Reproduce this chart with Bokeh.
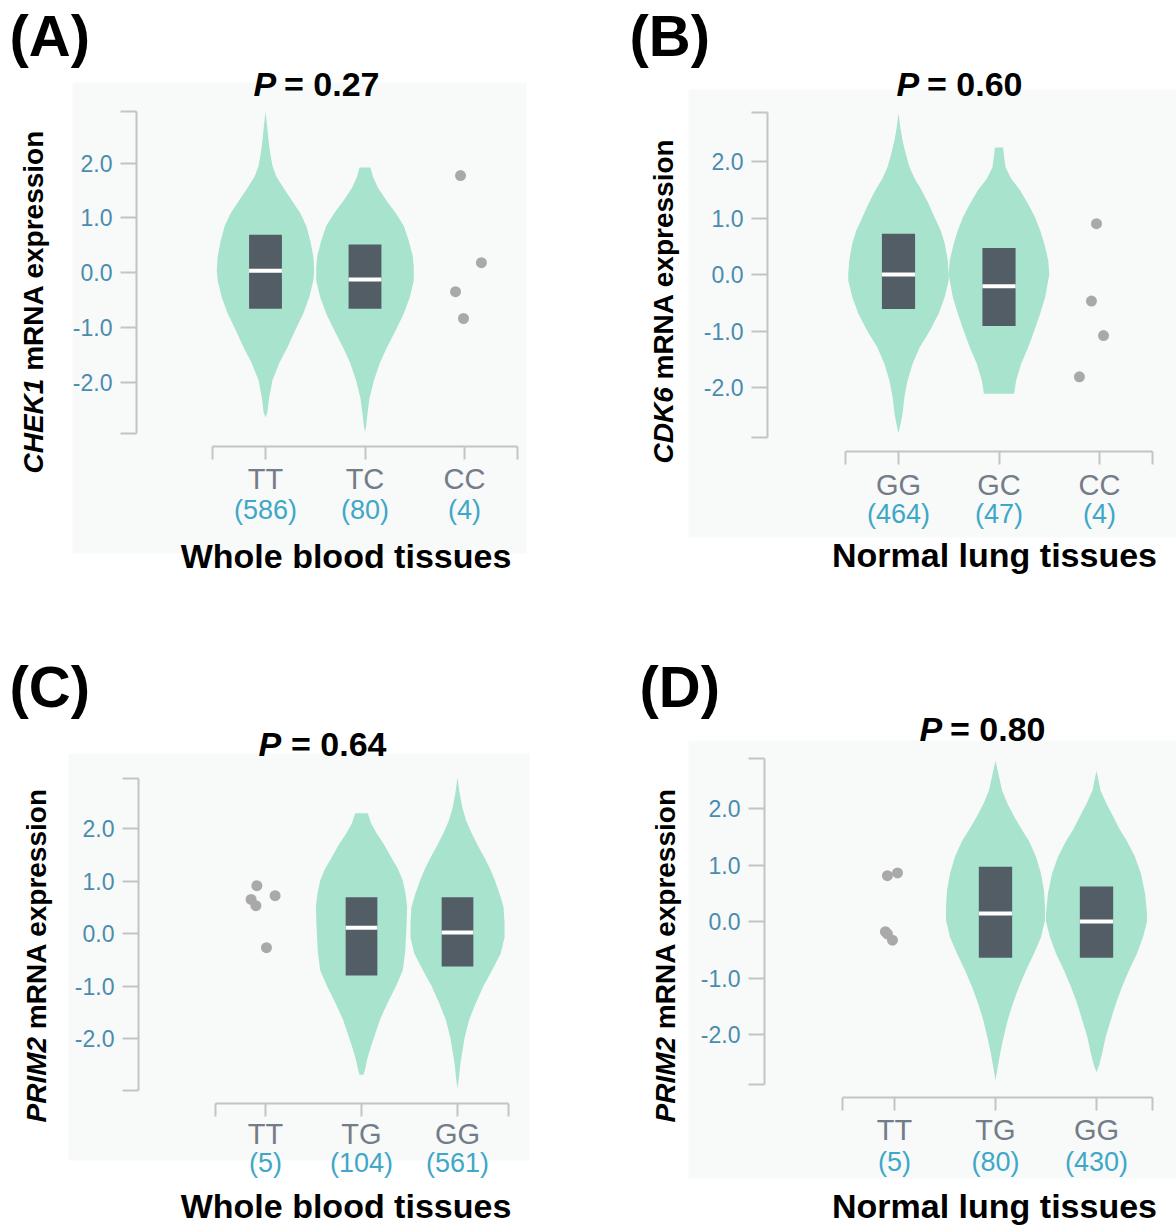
import math
from bokeh.plotting import figure
from bokeh.models import Range1d, LinearAxis, FixedTicker, Label, BoxAnnotation
from bokeh.layouts import gridplot
from bokeh.embed import file_html
from bokeh.resources import INLINE

# ---------------- data ----------------
# Panel A
A_gene = "CHEK1"
A_tissue = "Whole blood tissues"
A_pvalue = "0.27"
A_genotypes = ["TT", "TC", "CC"]
A_counts = [586, 80, 4]
A_TT_vy = [2.94, 2.70, 2.45, 2.20, 1.95, 1.75, 1.55, 1.30, 1.08, 0.85, 0.58, 0.30, 0.05, -0.15, -0.45, -0.75, -1.05, -1.37, -1.65, -1.97, -2.30, -2.55, -2.65]
A_TT_vw = [0.0, 0.015, 0.028, 0.045, 0.07, 0.11, 0.18, 0.27, 0.35, 0.41, 0.45, 0.48, 0.49, 0.48, 0.44, 0.38, 0.30, 0.22, 0.14, 0.07, 0.035, 0.02, 0.0]
A_TC_vy = [1.92, 1.75, 1.55, 1.30, 1.08, 0.85, 0.58, 0.30, 0.10, -0.15, -0.45, -0.75, -1.05, -1.37, -1.65, -1.97, -2.30, -2.58, -2.80, -2.92]
A_TC_vw = [0.055, 0.08, 0.13, 0.22, 0.31, 0.39, 0.44, 0.48, 0.49, 0.49, 0.45, 0.39, 0.31, 0.22, 0.15, 0.09, 0.045, 0.025, 0.012, 0.0]
A_q1 = [-0.66, -0.66]
A_q3 = [0.69, 0.51]
A_med = [0.03, -0.13]
A_pts_y = [1.77, 0.18, -0.35, -0.84]
A_pts_jit = [-0.04, 0.17, -0.09, -0.01]

# Panel B
B_gene = "CDK6"
B_tissue = "Normal lung tissues"
B_pvalue = "0.60"
B_genotypes = ["GG", "GC", "CC"]
B_counts = [464, 47, 4]
B_GG_vy = [2.85, 2.60, 2.37, 2.15, 1.90, 1.70, 1.49, 1.25, 1.01, 0.78, 0.55, 0.25, 0.00, -0.10, -0.40, -0.69, -1.00, -1.29, -1.58, -1.88, -2.15, -2.46, -2.65, -2.81]
B_GG_vw = [0.0, 0.018, 0.04, 0.07, 0.11, 0.16, 0.23, 0.30, 0.36, 0.42, 0.46, 0.49, 0.50, 0.50, 0.46, 0.40, 0.31, 0.21, 0.14, 0.09, 0.06, 0.04, 0.02, 0.0]
B_GC_vy = [2.25, 2.10, 1.90, 1.70, 1.49, 1.25, 1.01, 0.78, 0.55, 0.25, 0.00, -0.10, -0.40, -0.69, -1.00, -1.29, -1.58, -1.88, -2.11]
B_GC_vw = [0.04, 0.05, 0.065, 0.12, 0.21, 0.29, 0.36, 0.41, 0.45, 0.49, 0.50, 0.49, 0.46, 0.41, 0.35, 0.29, 0.22, 0.17, 0.15]
B_q1 = [-0.61, -0.91]
B_q3 = [0.72, 0.47]
B_med = [0.0, -0.21]
B_pts_y = [0.90, -0.47, -1.08, -1.81]
B_pts_jit = [-0.03, -0.08, 0.04, -0.20]

# Panel C
C_gene = "PRIM2"
C_tissue = "Whole blood tissues"
C_pvalue = "0.64"
C_genotypes = ["TT", "TG", "GG"]
C_counts = [5, 104, 561]
C_TG_vy = [2.29, 2.10, 1.90, 1.68, 1.45, 1.23, 1.01, 0.75, 0.50, 0.20, 0.00, -0.35, -0.70, -1.00, -1.33, -1.65, -1.98, -2.20, -2.42, -2.60, -2.69]
C_TG_vw = [0.065, 0.10, 0.16, 0.24, 0.31, 0.38, 0.43, 0.46, 0.475, 0.47, 0.465, 0.455, 0.43, 0.36, 0.27, 0.19, 0.13, 0.09, 0.056, 0.035, 0.02]
C_GG_vy = [2.97, 2.70, 2.40, 2.15, 1.90, 1.68, 1.45, 1.23, 1.01, 0.75, 0.50, 0.20, -0.07, -0.38, -0.70, -1.00, -1.33, -1.65, -1.98, -2.25, -2.48, -2.75, -2.95]
C_GG_vw = [0.0, 0.02, 0.05, 0.09, 0.15, 0.21, 0.28, 0.34, 0.39, 0.44, 0.48, 0.49, 0.49, 0.45, 0.36, 0.27, 0.19, 0.12, 0.075, 0.05, 0.03, 0.015, 0.0]
C_q1 = [-0.80, -0.63]
C_q3 = [0.69, 0.69]
C_med = [0.11, 0.02]
C_pts_y = [0.91, 0.72, 0.65, 0.53, -0.27]
C_pts_jit = [-0.09, 0.10, -0.15, -0.10, 0.01]

# Panel D
D_gene = "PRIM2"
D_tissue = "Normal lung tissues"
D_pvalue = "0.80"
D_genotypes = ["TT", "TG", "GG"]
D_counts = [5, 80, 430]
D_TG_vy = [2.85, 2.60, 2.32, 2.08, 1.84, 1.63, 1.43, 1.15, 0.85, 0.55, 0.25, 0.02, -0.28, -0.57, -0.87, -1.17, -1.46, -1.75, -2.05, -2.34, -2.60, -2.81]
D_TG_vw = [0.0, 0.03, 0.065, 0.12, 0.19, 0.26, 0.33, 0.40, 0.45, 0.48, 0.49, 0.49, 0.45, 0.38, 0.30, 0.23, 0.17, 0.12, 0.08, 0.045, 0.02, 0.0]
D_GG_vy = [2.67, 2.50, 2.32, 2.08, 1.84, 1.63, 1.43, 1.15, 0.85, 0.50, 0.14, 0.00, -0.28, -0.57, -0.87, -1.17, -1.46, -1.75, -2.05, -2.34, -2.55, -2.67]
D_GG_vw = [0.0, 0.02, 0.04, 0.10, 0.17, 0.23, 0.30, 0.38, 0.44, 0.48, 0.50, 0.50, 0.46, 0.40, 0.32, 0.25, 0.19, 0.14, 0.09, 0.055, 0.025, 0.0]
D_q1 = [-0.64, -0.64]
D_q3 = [0.97, 0.62]
D_med = [0.14, 0.0]
D_pts_y = [0.81, 0.86, -0.18, -0.22, -0.33]
D_pts_jit = [-0.07, 0.03, -0.09, -0.07, -0.02]

Y_TICKS = [-2, -1, 0, 1, 2]
Y_TICK_LABELS = ["-2.0", "-1.0", "0.0", "1.0", "2.0"]

# ---------------- style ----------------
VIOLIN = "#a7e3cd"
BOX = "#535d66"
BG = "#f8f9f9"
AXIS = "#c4c4c4"
YTICK = "#4a8cae"
GENO = "#737d88"
COUNT = "#3fa7c7"
PT = "#a9a9a9"
FONT = "Liberation Sans"
ASC = 0.905  # ascent (em) of the font: 'top' anchor = baseline - ASC * size

# layout in page pixels: canvas origin/size, y-axis x, x-axis y, category-1 x, px per category,
# zero-line y, px per unit, axis bounds (data), background box, text baselines
LAYOUT = {
    "A": dict(ox=0, oy=0, W=590, H=600, yax=136, xax=446, c1=265, sp=99.5, z0=272, unit=54.75,
              xb=(0.47, 3.53), yb=(-2.94, 2.94), bg=(72, 526, 82, 553), gstand=3,
              letter=(9, 55), ptitle=(253, 379, 95), xtitle=(345.5, 567), ylab=(43, 473), cnt_base=519),
    "B": dict(ox=590, oy=0, W=586, H=600, yax=767, xax=451, c1=898, sp=100.5, z0=274, unit=56.5,
              xb=(0.473, 3.527), yb=(-2.88, 2.87), bg=(688, 1176, 89, 537), gstand=4,
              letter=(629, 55), ptitle=(896, 1022, 95), xtitle=(994, 566), ylab=(673, 463), cnt_base=523),
    "C": dict(ox=0, oy=600, W=590, H=628, yax=138, xax=1103, c1=265, sp=96, z0=933, unit=52.5,
              xb=(0.48, 3.53), yb=(-2.99, 2.95), bg=(68, 529, 753, 1160), gstand=1,
              letter=(9, 706), ptitle=(258, 386, 755), xtitle=(345.5, 1217), ylab=(46, 1122), cnt_base=1172),
    "D": dict(ox=590, oy=600, W=586, H=628, yax=764, xax=1097, c1=894, sp=101, z0=921, unit=56.5,
              xb=(0.485, 3.55), yb=(-2.88, 2.88), bg=(688, 1176, 740, 1178), gstand=3,
              letter=(639, 706), ptitle=(919, 1045, 740), xtitle=(994, 1217), ylab=(675, 1122), cnt_base=1171),
}

GENE_EM = {"CHEK1": 3.667, "CDK6": 3.0, "PRIM2": 3.334}  # width of "GENE " in em (Arial bold)


def build(key, gene, tissue, pval, genos, counts, violins, vcats, q1, q3, med, pcat, pts_y, pts_jit):
    L = LAYOUT[key]
    ox, oy, W, H = L["ox"], L["oy"], L["W"], L["H"]
    c1, sp, z0, un = L["c1"], L["sp"], L["z0"], L["unit"]

    def dx(gx):  # page px -> data x
        return 1 + (gx - c1) / sp

    def dy(gy):  # page px -> data y
        return (z0 - gy) / un

    # the frame covers the whole canvas; axes are pinned with fixed_location
    p = figure(width=W, height=H, output_backend="svg", toolbar_location=None,
               x_range=Range1d(dx(ox), dx(ox + W)), y_range=Range1d(dy(oy + H), dy(oy)),
               min_border=0, min_border_left=0, min_border_right=0, min_border_top=0,
               min_border_bottom=0, x_axis_type=None, y_axis_type=None)
    p.outline_line_color = None
    p.background_fill_color = "white"
    p.border_fill_color = "white"
    p.xgrid.visible = False
    p.ygrid.visible = False

    bl, br, bt, bb = L["bg"]
    p.add_layout(BoxAnnotation(left=dx(bl), right=dx(br), top=dy(bt), bottom=dy(bb),
                               fill_color=BG, fill_alpha=1.0, line_color=None, level="underlay"))

    # y axis
    y0, y1 = L["yb"]
    ov = {t: s for t, s in zip(Y_TICKS, Y_TICK_LABELS)}
    ov[y0] = ""
    ov[y1] = ""
    ya = LinearAxis(bounds=(y0, y1), ticker=FixedTicker(ticks=[y0] + Y_TICKS + [y1]),
                    major_label_overrides=ov, fixed_location=dx(L["yax"]))
    ya.axis_line_color = AXIS
    ya.axis_line_width = 2
    ya.major_tick_line_color = AXIS
    ya.major_tick_line_width = 2
    ya.major_tick_out = 16
    ya.major_tick_in = 0
    ya.minor_tick_line_color = None
    ya.major_label_text_color = YTICK
    ya.major_label_text_font = FONT
    ya.major_label_text_font_size = "23px"
    ya.major_label_standoff = 8
    p.add_layout(ya, "left")

    # x axis (genotypes)
    x0, x1 = L["xb"]
    xov = {x0: "", x1: ""}
    for i, g in enumerate(genos):
        xov[i + 1] = g
    xa = LinearAxis(bounds=(x0, x1), ticker=FixedTicker(ticks=[x0, 1, 2, 3, x1]),
                    major_label_overrides=xov, fixed_location=dy(L["xax"]))
    xa.axis_line_color = AXIS
    xa.axis_line_width = 2
    xa.major_tick_line_color = AXIS
    xa.major_tick_line_width = 2
    xa.major_tick_out = 13
    xa.major_tick_in = 0
    xa.minor_tick_line_color = None
    xa.major_label_text_color = GENO
    xa.major_label_text_font = FONT
    xa.major_label_text_font_size = "29px"
    xa.major_label_standoff = L["gstand"]
    p.add_layout(xa, "below")

    # violins
    for (vy, vw), c in zip(violins, vcats):
        xs = [c + w for w in vw] + [c - w for w in reversed(vw)]
        ys = list(vy) + list(reversed(vy))
        p.patch(xs, ys, fill_color=VIOLIN, line_color=None)
    # boxes + medians
    half = 0.165
    p.quad(left=[c - half for c in vcats], right=[c + half for c in vcats], bottom=q1, top=q3,
           fill_color=BOX, line_color=None)
    p.segment(x0=[c - half for c in vcats], x1=[c + half for c in vcats], y0=med, y1=med,
              line_color="white", line_width=4)
    # individual points
    p.scatter(x=[pcat + j for j in pts_jit], y=pts_y, size=11, fill_color=PT, line_color=None)

    def txt(gx, gbase, text, size, style="normal", align="left", color="black"):
        p.add_layout(Label(x=dx(gx), y=dy(gbase - ASC * size), text=text, text_align=align,
                           text_baseline="top", text_font=FONT, text_font_size=f"{size}px",
                           text_font_style=style, text_color=color))

    # counts under genotypes
    for i, n in enumerate(counts):
        p.add_layout(Label(x=i + 1, y=dy(L["cnt_base"] - ASC * 27), text=f"({n})", text_align="center",
                           text_baseline="top", text_font=FONT, text_font_size="27px",
                           text_color=COUNT))
    # x title
    tx, tyb = L["xtitle"]
    txt(tx, tyb, tissue, 34, "bold", "center")
    # P value title
    pl, pr, pb = L["ptitle"]
    txt(pl, pb, "P", 34, "bold italic", "left")
    txt(pr, pb, f"= {pval}", 34, "bold", "right")
    # panel letter
    lx, lb = L["letter"]
    txt(lx, lb, f"({key})", 58, "bold", "left")
    # y title: italic gene + " mRNA expression" (rotated, reading upward)
    yx, ybot = L["ylab"]
    fs = 28
    p.add_layout(Label(x=dx(yx - ASC * fs), y=dy(ybot), text=gene, angle=math.pi / 2, text_align="left",
                       text_baseline="top", text_font=FONT, text_font_size=f"{fs}px",
                       text_font_style="bold italic", text_color="black"))
    p.add_layout(Label(x=dx(yx - ASC * fs), y=dy(ybot - GENE_EM[gene] * fs), text="mRNA expression",
                       angle=math.pi / 2, text_align="left", text_baseline="top", text_font=FONT,
                       text_font_size=f"{fs}px", text_font_style="bold", text_color="black"))
    return p


pA = build("A", A_gene, A_tissue, A_pvalue, A_genotypes, A_counts,
           [(A_TT_vy, A_TT_vw), (A_TC_vy, A_TC_vw)], [1, 2], A_q1, A_q3, A_med, 3, A_pts_y, A_pts_jit)
pB = build("B", B_gene, B_tissue, B_pvalue, B_genotypes, B_counts,
           [(B_GG_vy, B_GG_vw), (B_GC_vy, B_GC_vw)], [1, 2], B_q1, B_q3, B_med, 3, B_pts_y, B_pts_jit)
pC = build("C", C_gene, C_tissue, C_pvalue, C_genotypes, C_counts,
           [(C_TG_vy, C_TG_vw), (C_GG_vy, C_GG_vw)], [2, 3], C_q1, C_q3, C_med, 1, C_pts_y, C_pts_jit)
pD = build("D", D_gene, D_tissue, D_pvalue, D_genotypes, D_counts,
           [(D_TG_vy, D_TG_vw), (D_GG_vy, D_GG_vw)], [2, 3], D_q1, D_q3, D_med, 1, D_pts_y, D_pts_jit)

grid = gridplot([[pA, pB], [pC, pD]], toolbar_location=None)

with open("out.html", "w") as f:
    f.write(file_html(grid, INLINE))
